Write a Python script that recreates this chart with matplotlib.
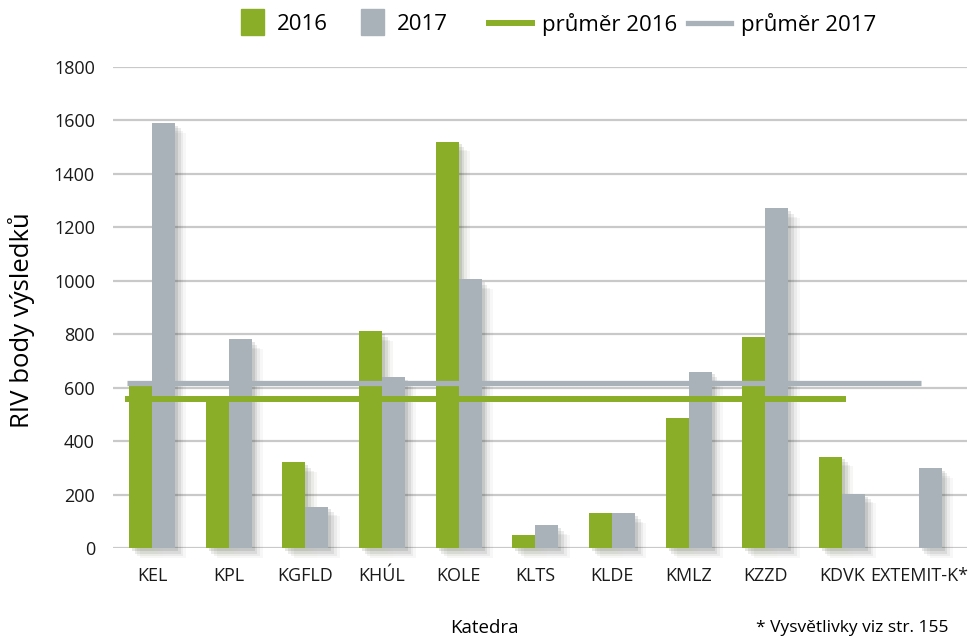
import numpy as np
import matplotlib
matplotlib.use('Agg')
import matplotlib.pyplot as plt
import matplotlib.patches as mpatches
import matplotlib.patheffects as pe
from matplotlib.legend_handler import HandlerPatch
from matplotlib.lines import Line2D

plt.rcParams['font.family'] = ['Open Sans', 'DejaVu Sans']

katedry = ['KEL', 'KPL', 'KGFLD', 'KHÚL', 'KOLE', 'KLTS', 'KLDE', 'KMLZ', 'KZZD', 'KDVK', 'EXTEMIT-K*']
body_2016 = [610, 570, 320, 810, 1520, 50, 130, 487, 790, 342, np.nan]
body_2017 = [1590, 780, 155, 640, 1005, 85, 130, 660, 1270, 203, 300]
prumer_2016 = 558
prumer_2017 = 619
yticks = [0, 200, 400, 600, 800, 1000, 1200, 1400, 1600, 1800]

zelena = '#8aae28'
seda = '#a9b2b9'

fig = plt.figure(figsize=(9.7, 6.41), dpi=100)
ax = fig.add_axes([0.1165, 0.145, 0.8805, 0.751])

x = np.arange(len(katedry))
w = 0.30
stin = [pe.SimplePatchShadow(offset=(2, -2), alpha=0.12),
        pe.SimplePatchShadow(offset=(4, -4), alpha=0.09),
        pe.SimplePatchShadow(offset=(6, -6), alpha=0.06),
        pe.SimplePatchShadow(offset=(8, -7), alpha=0.04),
        pe.Normal()]

v16 = np.array(body_2016, dtype=float)
v17 = np.array(body_2017, dtype=float)
ok16 = ~np.isnan(v16)
ok17 = ~np.isnan(v17)
ax.bar(x[ok16] - w / 2, v16[ok16], w, color=zelena, zorder=3, path_effects=stin, clip_on=False)
ax.bar(x[ok17] + w / 2, v17[ok17], w, color=seda, zorder=3, path_effects=stin, clip_on=False)

# prumery
ax.plot([-0.33, x[ok17][-1] + 0.03], [prumer_2017, prumer_2017], color=seda, lw=3.8, zorder=4,
        solid_capstyle='butt')
ax.plot([-0.36, x[ok16][-1] + 0.05], [prumer_2016, prumer_2016], color=zelena, lw=4.3, zorder=4,
        solid_capstyle='butt')

ax.set_xlim(-0.51, 10.63)
ax.set_ylim(0, 1800)
ax.set_yticks(yticks)
ax.set_xticks(x)
ax.set_xticklabels(katedry, fontsize=13, color='#1a1a1a')
ax.set_yticklabels([str(t) for t in yticks], fontsize=13, color='#1a1a1a')
ax.tick_params(axis='both', length=0)
ax.tick_params(axis='y', pad=13)
ax.tick_params(axis='x', pad=14)
ax.yaxis.grid(True, color='#c9c9c9', lw=1.6, zorder=0)
ax.set_axisbelow(True)
for s in ax.spines.values():
    s.set_visible(False)

fig.text(22 / 970, 0.5, 'RIV body výsledků', rotation=90, ha='center', va='center', fontsize=18.5)
fig.text(484 / 970, 1 - 628 / 641, 'Katedra', ha='center', va='center', fontsize=13.5)
fig.text(949 / 970, 1 - 628 / 641, '* Vysvětlivky viz str. 155', ha='right', va='center', fontsize=12.5)


def ctverec(legend, orig_handle, xdescent, ydescent, width, height, fontsize):
    h = 1.15 * fontsize
    return mpatches.Rectangle((-xdescent, -ydescent + height / 2 - h / 2), width, h)


ly = 1 - 24 / 641
leg_bar = fig.legend([mpatches.Patch(color=zelena), mpatches.Patch(color=seda)], ['2016', '2017'],
                     ncol=2, loc='center left', bbox_to_anchor=(241 / 970, ly), frameon=False,
                     fontsize=16, handlelength=1.05, handletextpad=0.55, columnspacing=1.5,
                     borderpad=0, borderaxespad=0,
                     handler_map={mpatches.Patch: HandlerPatch(patch_func=ctverec)})
leg_car = fig.legend([Line2D([], [], color=zelena, lw=4.3), Line2D([], [], color=seda, lw=3.8)],
                     ['průměr 2016', 'průměr 2017'],
                     ncol=2, loc='center left', bbox_to_anchor=(489 / 970, ly), frameon=False,
                     fontsize=16, handlelength=1.95, handletextpad=0.45, columnspacing=0.45,
                     borderpad=0, borderaxespad=0)

fig.savefig('out.png', dpi=100)
